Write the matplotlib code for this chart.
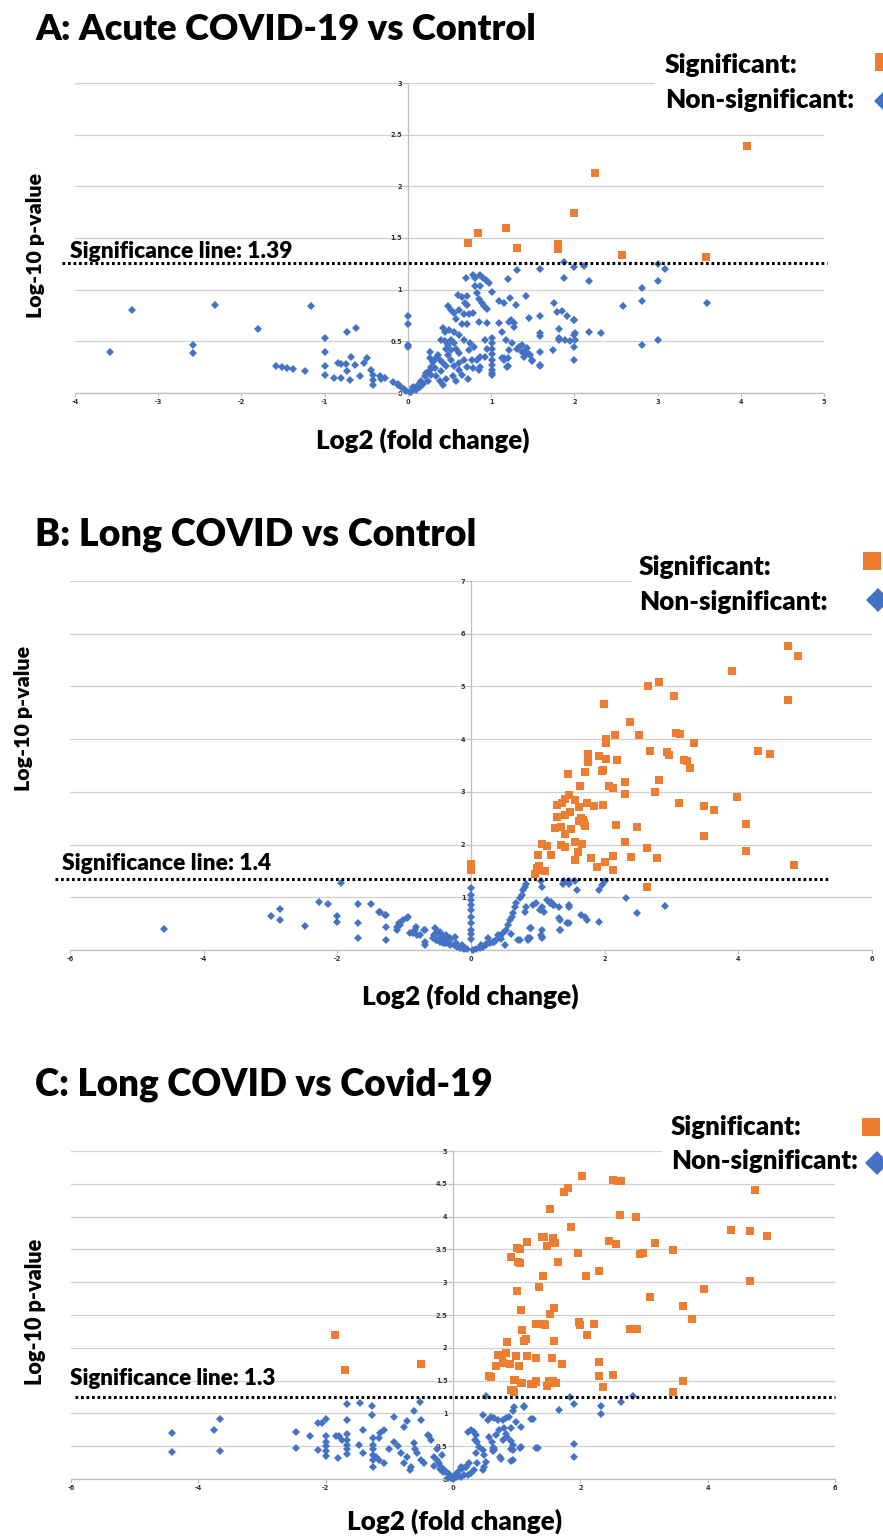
import matplotlib
matplotlib.use("Agg")
import matplotlib.pyplot as plt
from matplotlib.patches import Rectangle
from matplotlib.lines import Line2D

plt.rcParams['font.family'] = ['Lato', 'DejaVu Sans']
TEXT_WEIGHT = 'heavy'

ORANGE = '#ED7D31'
BLUE = '#4472C4'

# ---------------- Panel A data ----------------
a_sig_x = [4.08, 2.25, 1.99, 1.18, 0.84, 0.72, 1.31, 1.80, 1.80, 2.57, 3.58]
a_sig_y = [2.39, 2.13, 1.74, 1.60, 1.55, 1.45, 1.40, 1.44, 1.39, 1.34, 1.32]
a_ns_x = [-3.58, -3.32, -2.58, -2.58, -2.32, -1.80, -1.17, -1.58, -1.51, -1.45, -1.38, -1.24,
          -0.99, -0.99, -0.99, -0.99, -0.89, -0.80, -0.84, -0.80, -0.73, -0.62, -0.68, -0.74,
          -0.63, -0.73, -0.69, -0.58, -0.53, -0.49, -0.44, -0.42, -0.42, -0.42, -0.32, -0.28,
          -0.18, -0.12, -0.08, -0.05, -0.02, 0.00, 0.00, 0.00, 0.00, -0.34, -0.12,
          0.70, 0.78, 0.87, 0.81, 0.90, 0.94, 0.97, 0.81, 0.87, 0.83, 1.01, 1.20, 1.31, 1.59,
          1.88, 1.88, 2.00, 0.60, 0.65, 0.71, 0.69, 0.71, 0.86, 0.89, 0.91, 0.95, 1.09, 1.16,
          1.23, 1.30, 1.42, 0.85, 0.95, 1.10, 1.21, 1.24, 1.27, 1.13, 1.27, 1.45, 1.59, 1.59,
          1.59, 1.75, 1.79, 1.85, 1.91, 1.99, 2.01, 2.01, 1.81, 1.89, 1.95, 1.74, 2.00, 1.59,
          1.43, 1.37, 1.33, 1.39, 1.45, 1.49, 1.39, 1.25, 1.18, 1.22, 1.15, 1.19,
          1.01, 1.01, 1.01, 1.01, 1.01, 1.01, 1.01, 1.01, 1.01,
          0.93, 0.95, 0.87, 0.93, 0.87, 0.75, 0.79, 0.74, 0.77, 0.83, 0.71, 0.78, 0.85, 0.72,
          2.12, 2.18, 3.00, 3.01, 3.09, 2.81, 2.81, 2.58, 3.59, 2.32, 2.18, 2.81, 3.00,
          2.00, 2.00, 2.00, 1.59, 1.59, 1.81, 1.81, 1.20, 1.20, 1.31, 1.37, 1.41, 1.47, 1.49,
          1.13, 1.15,
          0.40, 0.44, 0.48, 0.52, 0.56, 0.46, 0.52, 0.58, 0.62, 0.48, 0.38, 0.42, 0.46, 0.52,
          0.56, 0.61, 0.40, 0.32, 0.26, 0.22, 0.28, 0.34, 0.38, 0.42, 0.46, 0.54, 0.58, 0.65,
          0.67, 0.62, 0.48, 0.52, 0.56, 0.62, 0.58, 0.68, 0.74, 0.78, 0.71, 0.65, 0.42, 0.44,
          0.50, 0.56, 0.62, 0.67,
          0.04, 0.08, 0.12, 0.16, 0.20, 0.18, 0.24, 0.14, 0.06, 0.28, 0.30, 0.34, 0.36, 0.26,
          0.26, 0.10, 0.02]
a_ns_y = [0.40, 0.80, 0.46, 0.39, 0.85, 0.62, 0.84, 0.26, 0.25, 0.24, 0.23, 0.21,
          0.53, 0.40, 0.26, 0.17, 0.15, 0.15, 0.29, 0.28, 0.59, 0.63, 0.35, 0.28,
          0.27, 0.21, 0.13, 0.16, 0.29, 0.34, 0.22, 0.17, 0.13, 0.08, 0.14, 0.15,
          0.11, 0.09, 0.06, 0.04, 0.02, 0.75, 0.67, 0.46, 0.45, 0.16, 0.08,
          1.11, 1.14, 1.14, 1.11, 1.11, 1.09, 1.06, 1.04, 1.04, 0.97, 0.98, 1.10, 1.19, 1.20,
          1.27, 1.11, 1.22, 0.95, 0.93, 0.94, 0.87, 0.85, 0.91, 0.87, 0.84, 0.81, 0.89, 0.87,
          0.92, 0.85, 0.94, 0.69, 0.68, 0.68, 0.69, 0.71, 0.68, 0.59, 0.64, 0.73, 0.75, 0.58,
          0.55, 0.87, 0.78, 0.79, 0.75, 0.71, 0.58, 0.51, 0.53, 0.51, 0.50, 0.42, 0.32, 0.27,
          0.44, 0.46, 0.45, 0.40, 0.38, 0.32, 0.35, 0.48, 0.51, 0.42, 0.34, 0.25,
          0.53, 0.48, 0.43, 0.38, 0.32, 0.27, 0.22, 0.19, 0.17,
          0.51, 0.43, 0.35, 0.35, 0.25, 0.48, 0.45, 0.42, 0.32, 0.32, 0.25, 0.24, 0.22, 0.14,
          1.23, 1.08, 1.25, 1.08, 1.20, 1.02, 0.89, 0.84, 0.87, 0.58, 0.59, 0.46, 0.51,
          0.45, 0.56, 0.71, 0.40, 0.26, 0.62, 0.51, 0.34, 0.26, 0.43, 0.40, 0.38, 0.37, 0.31,
          0.34, 0.32,
          0.51, 0.50, 0.46, 0.51, 0.48, 0.43, 0.42, 0.43, 0.39, 0.37, 0.32, 0.29, 0.26, 0.32,
          0.26, 0.22, 0.21, 0.24, 0.22, 0.19, 0.17, 0.16, 0.12, 0.08, 0.14, 0.16, 0.12, 0.17,
          0.32, 0.29, 0.84, 0.80, 0.77, 0.80, 0.72, 0.76, 0.76, 0.77, 0.67, 0.67, 0.63, 0.59,
          0.61, 0.59, 0.56, 0.51,
          0.01, 0.05, 0.08, 0.12, 0.16, 0.09, 0.12, 0.06, 0.06, 0.25, 0.30, 0.34, 0.37, 0.40,
          0.34, 0.03, 0.01]

# ---------------- Panel B data ----------------
b_sig_x = [4.74, 4.90, 3.90, 4.74, 2.65, 2.82, 3.04, 1.99, 2.38, 2.51, 2.15, 2.02, 2.02,
           3.07, 3.12, 3.34, 2.68, 2.93, 2.97, 4.30, 4.48, 3.18, 3.23, 3.27, 1.75, 1.75,
           1.92, 2.02, 2.18, 1.96, 1.98, 1.45, 1.70, 2.81, 2.31, 1.63, 2.07, 2.13, 2.76,
           2.31, 3.98, 1.46, 1.29, 1.36, 1.40, 1.56, 1.61, 1.74, 1.84, 1.98, 3.11, 3.48,
           3.63, 1.28, 1.40, 1.48, 1.64, 1.68, 1.61, 1.69, 1.71, 1.25, 1.34, 1.40, 1.49,
           2.17, 2.49, 4.12, 3.48, 1.06, 1.14, 1.35, 1.40, 1.56, 1.66, 2.31, 1.60, 2.63,
           4.12, 1.00, 1.19, 1.79, 2.12, 2.40, 2.79, 1.56, 2.00, 1.89, 4.84, 1.01, 0.99,
           0.96, 1.10, 0.99, 2.12, 2.63, 0.0, 0.0, 0.0]
b_sig_y = [5.76, 5.58, 5.29, 4.74, 5.01, 5.09, 4.81, 4.67, 4.32, 4.07, 4.07, 4.00, 3.92,
           4.12, 4.09, 3.92, 3.77, 3.75, 3.70, 3.77, 3.71, 3.60, 3.59, 3.46, 3.71, 3.57,
           3.68, 3.63, 3.61, 3.40, 3.41, 3.34, 3.37, 3.23, 3.18, 3.11, 3.11, 3.08, 3.00,
           2.96, 2.91, 2.94, 2.75, 2.78, 2.86, 2.84, 2.72, 2.79, 2.73, 2.75, 2.78, 2.73,
           2.65, 2.53, 2.57, 2.62, 2.51, 2.46, 2.44, 2.40, 2.36, 2.31, 2.34, 2.21, 2.29,
           2.37, 2.34, 2.39, 2.17, 2.01, 1.98, 1.99, 1.96, 2.04, 2.02, 2.04, 1.86, 1.93,
           1.88, 1.80, 1.80, 1.75, 1.79, 1.77, 1.74, 1.71, 1.66, 1.58, 1.61, 1.59, 1.51,
           1.45, 1.50, 1.55, 1.52, 1.20, 1.64, 1.58, 1.52]
b_ns_x = [-4.59, -3.00, -2.86, -2.86, -2.48, -2.27, -2.14, -2.00, -2.00, -1.94, -1.69, -1.69,
          -1.69, -1.49, -1.38, -1.27, -1.27, -1.27, -1.10, -1.07, -1.01, -0.95, -0.92, -0.84,
          -0.82, -0.77, -0.69, -0.69, -0.69, -0.54, -0.52, -0.47, -0.42, -0.37, -0.32, -0.24,
          -0.22, -0.14, -0.09, -0.57, -0.52, -0.47, -0.42, -0.37, -0.32,
          -1.36, -1.29, -1.06, -1.11, -0.96, -0.87, -0.81, -0.71, -0.49, -0.44, -0.46, -0.41,
          -0.36, -0.31, -0.51, -0.56, -0.39, -0.26, -0.21, -0.16, -0.11, -0.06,
          0.0, 0.0, 0.0, 0.0, 0.0, 0.0, 0.0, 0.0, 0.0, 0.0,
          0.03, 0.08, 0.13, 0.18, 0.23, 0.28, 0.33, 0.38, 0.43, 0.48, 0.53, 0.56, 0.58, 0.61,
          0.63, 0.66, 0.68, 0.73, 0.76, 0.78, 0.81, 0.83,
          0.51, 0.71, 0.86, 0.88, 0.81, 0.83, 0.93, 0.98, 1.06, 1.06, 1.06, 1.03, 1.18, 1.23,
          1.31, 1.33, 1.38, 1.46, 1.46, 1.43,
          1.04, 1.06, 1.39, 1.46, 1.56, 1.59, 1.91, 1.96, 2.01, 2.32, 2.49, 2.91, 1.91, 1.74,
          1.64, 1.71, 1.46, 1.46, 1.31, 1.24, 1.19, 1.14, 1.33, 1.33, 1.09, 0.90, 1.04, 1.06,
          0.74, 0.86, 0.89, 0.15, 0.22, 0.40, 0.45, 0.60, 0.35, 0.25]
b_ns_y = [0.40, 0.65, 0.77, 0.57, 0.45, 0.92, 0.87, 0.65, 0.54, 1.28, 0.88, 0.51,
          0.23, 0.88, 0.73, 0.66, 0.44, 0.19, 0.44, 0.52, 0.57, 0.62, 0.32, 0.38,
          0.44, 0.28, 0.38, 0.16, 0.09, 0.41, 0.32, 0.35, 0.25, 0.28, 0.22, 0.25,
          0.13, 0.09, 0.03, 0.22, 0.19, 0.16, 0.13, 0.13, 0.09,
          0.73, 0.66, 0.47, 0.38, 0.60, 0.32, 0.29, 0.38, 0.35, 0.28, 0.22, 0.19,
          0.22, 0.19, 0.19, 0.28, 0.13, 0.09, 0.06, 0.03, 0.02, 0.01,
          1.17, 1.04, 0.95, 0.85, 0.76, 0.63, 0.51, 0.38, 0.30, 0.20,
          0.00, 0.01, 0.03, 0.06, 0.09, 0.13, 0.16, 0.19, 0.25, 0.32, 0.38, 0.47, 0.57, 0.63,
          0.70, 0.82, 0.89, 0.98, 1.04, 1.14, 1.20, 1.26,
          0.09, 0.19, 0.22, 0.41, 0.73, 0.82, 0.85, 0.89, 0.38, 0.25, 0.82, 0.76, 0.89, 0.85,
          0.60, 0.38, 1.26, 1.26, 0.51, 0.51,
          1.30, 1.20, 1.30, 1.30, 1.30, 1.14, 1.14, 1.23, 1.30, 0.98, 0.71, 0.83, 0.54, 0.57,
          0.66, 0.63, 0.85, 0.82, 0.82, 0.85, 0.92, 0.95, 0.57, 0.38, 0.73, 0.41, 0.28, 0.22,
          0.19, 0.19, 0.22, 0.10, 0.12, 0.28, 0.20, 0.30, 0.15, 0.22]

# ---------------- Panel C data ----------------
c_sig_x = [-1.86, -1.69, -0.50, 0.60, 0.96, 1.09, 1.25, 1.30, 1.51, 0.95,
           2.02, 2.51, 2.59, 2.64, 4.74, 1.80, 1.74, 1.52, 2.63, 2.88, 1.86, 4.37, 4.67,
           4.93, 1.40, 1.43, 1.57, 1.60, 1.47, 1.16, 1.01, 1.05, 2.45, 2.56, 3.17, 3.46,
           2.94, 2.99, 1.97, 0.91, 1.02, 1.06, 1.65, 2.30, 2.09, 1.41, 4.67, 1.35, 3.95,
           1.01, 3.10, 1.07, 1.58, 1.52, 3.62, 3.75, 1.08, 1.30, 1.43, 1.45, 1.98, 1.99,
           2.22, 2.78, 2.89, 2.11, 1.12, 1.15, 1.58, 0.85, 0.71, 0.77, 0.84, 0.99, 1.17,
           1.30, 1.56, 0.79, 0.90, 1.04, 0.67, 1.71, 2.30, 0.57, 0.59, 2.30, 2.51, 0.97,
           1.07, 1.22, 1.30, 1.51, 1.57, 1.61, 1.48, 3.62, 2.35, 0.91, 0.96, 3.46]
c_sig_y = [2.20, 1.66, 1.75, 1.56, 1.51, 1.46, 1.45, 1.48, 1.46, 1.35,
           4.62, 4.56, 4.55, 4.54, 4.40, 4.44, 4.38, 4.11, 4.03, 4.00, 3.84, 3.80, 3.78,
           3.71, 3.69, 3.69, 3.67, 3.60, 3.55, 3.61, 3.52, 3.51, 3.63, 3.58, 3.60, 3.49,
           3.43, 3.45, 3.44, 3.38, 3.31, 3.29, 3.31, 3.17, 3.10, 3.10, 3.02, 2.92, 2.89,
           2.87, 2.77, 2.57, 2.61, 2.52, 2.64, 2.44, 2.27, 2.36, 2.36, 2.35, 2.40, 2.34,
           2.37, 2.29, 2.28, 2.20, 2.10, 2.13, 2.11, 2.09, 1.89, 1.89, 1.92, 1.88, 1.88,
           1.85, 1.85, 1.77, 1.76, 1.73, 1.72, 1.76, 1.79, 1.57, 1.55, 1.57, 1.59, 1.51,
           1.47, 1.45, 1.49, 1.50, 1.49, 1.47, 1.42, 1.50, 1.40, 1.36, 1.33, 1.32]
c_ns_x = [-4.42, -4.42, -3.76, -3.66, -3.66, -2.47, -2.47, -2.25, -2.12, -2.05, -2.00, -2.12,
          -2.00, -2.00, -2.00, -2.00, -2.00, -1.84, -1.79, -1.74, -1.81, -1.67, -1.67, -1.67,
          -1.67, -1.67, -1.67, -1.67, -1.46, -1.41, -1.47, -1.41, -1.28, -1.28, -1.26, -1.26,
          -1.26, -1.26, -1.26, -1.26, -1.16, -1.14, -1.08, -1.21, -1.16, -1.08, -0.93, -0.77,
          -0.72, -0.61, -0.52, -0.50, -1.01, -0.93, -0.87, -0.82, -0.77, -0.72, -0.66, -0.67,
          -0.61, -0.59, -0.56, -0.51, -0.46, -0.40, -0.38, -0.35, -0.30, -0.25, -0.22, -0.19,
          -0.14, -0.12, -0.09, -0.06, -0.04, -0.17, -0.25, 0.04, 0.09, 0.15, 0.20, 0.25,
          0.52, 0.47, 0.55, 0.60, 0.65, 0.70, 0.78, 0.83, 0.88, 0.94, 0.96, 0.99, 1.12, 1.25,
          0.23, 0.28, 0.33, 0.36, 0.34, 0.38, 0.41, 0.47, 0.49, 0.52, 0.49, 0.38, 0.33, 0.28,
          0.23, 0.18, 0.13, 0.07, 0.02, -0.03, 0.20, 0.13, 0.36,
          0.57, 0.62, 0.67, 0.72, 0.80, 0.85, 0.91, 0.78, 0.65, 0.65, 0.75, 0.94, 0.94, 0.94,
          1.07, 1.33, 1.07, 0.83,
          1.84, 1.90, 2.32, 2.32, 2.64, 2.83, 1.66, 1.12, 1.22, 1.90, 1.90, 1.05, 1.31, 0.91,
          0.91, 0.91, 0.74, 0.63, 0.63, 0.47, -0.08, 0.00, -0.15, -0.30, -0.20]
c_ns_y = [0.70, 0.41, 0.74, 0.91, 0.42, 0.72, 0.48, 0.66, 0.85, 0.86, 0.91, 0.44,
          0.65, 0.57, 0.50, 0.43, 0.35, 0.66, 0.65, 0.60, 0.32, 1.15, 0.90, 0.68,
          0.60, 0.52, 0.45, 0.38, 1.16, 0.75, 0.52, 0.40, 1.11, 0.97, 0.62, 0.52,
          0.45, 0.37, 0.29, 0.19, 0.62, 0.70, 0.75, 0.34, 0.29, 0.24, 0.94, 0.80,
          0.89, 1.04, 1.18, 0.90, 0.45, 0.57, 0.50, 0.40, 0.24, 0.34, 0.19, 0.14,
          0.55, 0.45, 0.40, 0.29, 0.24, 0.67, 0.65, 0.60, 0.34, 0.29, 0.24, 0.19,
          0.14, 0.12, 0.09, 0.07, 0.04, 0.37, 0.45, 0.07, 0.12, 0.17, 0.19, 0.24,
          1.27, 0.97, 0.90, 0.95, 0.93, 0.90, 0.90, 0.93, 0.95, 1.03, 1.10, 0.87, 1.10, 0.91,
          0.72, 0.75, 0.72, 0.67, 0.59, 0.57, 0.49, 0.44, 0.36, 0.26, 0.19, 0.24, 0.14, 0.09,
          0.06, 0.06, 0.03, 0.03, 0.01, 0.01, 0.19, 0.19, 0.39,
          0.64, 0.57, 0.67, 0.75, 0.77, 0.64, 0.77, 0.59, 0.44, 0.47, 0.31, 0.52, 0.44, 0.29,
          0.49, 0.47, 0.80, 0.69,
          1.25, 1.14, 1.12, 0.99, 1.18, 1.26, 1.05, 1.11, 0.91, 0.53, 0.34, 0.48, 0.47, 0.58,
          0.46, 0.28, 0.33, 0.43, 0.48, 0.14, 0.02, 0.00, 0.10, 0.20, 0.15]

a_yticks = [0, 0.5, 1, 1.5, 2, 2.5, 3]
a_yticklabels = ['0', '0.5', '1', '1.5', '2', '2.5', '3']
a_xticks = [-4, -3, -2, -1, 0, 1, 2, 3, 4, 5]
b_yticks = [0, 1, 2, 3, 4, 5, 6, 7]
b_xticks = [-6, -4, -2, 0, 2, 4, 6]
c_yticks = [0, 0.5, 1, 1.5, 2, 2.5, 3, 3.5, 4, 4.5, 5]
c_yticklabels = ['0', '0.5', '1', '1.5', '2', '2.5', '3', '3.5', '4', '4.5', '5']
c_xticks = [-6, -4, -2, 0, 2, 4, 6]

W, H = 883, 1536
fig = plt.figure(figsize=(W / 100, H / 100), dpi=100)
renderer = fig.canvas.get_renderer()


def fx(px):
    return px / W


def fy(py):
    return 1 - py / H


def fit_text(x_px, y_px, s, target_px, rotation=0, ha='left', va='baseline', zorder=7):
    """Place bold text and scale its font size so it spans target_px pixels."""
    t = fig.text(fx(x_px), fy(y_px), s, fontsize=10, fontweight=TEXT_WEIGHT, ha=ha, va=va,
                 rotation=rotation, zorder=zorder)
    bb = t.get_window_extent(renderer=renderer)
    size = bb.height if rotation == 90 else bb.width
    t.set_fontsize(10 * target_px / size)
    return t


def make_axes(rect_px, xlim, ylim, xticks, yticks, yticklabels, xticklabels):
    x0, y_top, x1, y_bot = rect_px
    ax = fig.add_axes([fx(x0), fy(y_bot), fx(x1) - fx(x0), (y_bot - y_top) / H])
    ax.set_xlim(*xlim)
    ax.set_ylim(*ylim)
    ax.set_xticks(xticks)
    ax.set_xticklabels(xticklabels)
    ax.set_yticks(yticks)
    ax.set_yticklabels(yticklabels)
    ax.spines['top'].set_visible(False)
    ax.spines['right'].set_visible(False)
    ax.spines['left'].set_position(('data', 0))
    for s in ('left', 'bottom'):
        ax.spines[s].set_color('#bfbfbf')
        ax.spines[s].set_linewidth(0.9)
    ax.tick_params(axis='both', direction='out', length=3, width=0.8, color='#bfbfbf',
                   labelsize=5, labelcolor='#333333', pad=1)
    for lab in ax.get_xticklabels() + ax.get_yticklabels():
        lab.set_fontweight('bold')
        lab.set_family(['DejaVu Sans'])
        lab.set_fontsize(4.8)
    ax.grid(axis='y', color='#d0d0d0', linewidth=0.9)
    ax.set_axisbelow(True)
    ax.patch.set_alpha(0)
    return ax


def draw_points(ax, sx, sy, nx, ny, dsize, ssize):
    ax.plot(nx, ny, linestyle='none', marker='D', markersize=dsize, color=BLUE,
            markeredgewidth=0, clip_on=False, zorder=3)
    ax.plot(sx, sy, linestyle='none', marker='s', markersize=ssize, color=ORANGE,
            markeredgewidth=0, clip_on=False, zorder=4)


def sig_line(ax, yval, xmin, xmax):
    ax.axhline(yval, xmin=xmin, xmax=xmax, color='black', linewidth=2.2,
               linestyle=(0, (0.9, 0.9)), clip_on=False, zorder=5)


def legend(x_text, base_sig, base_non, w_sig, w_non, sq_xy, dm_xy, box):
    bx0, by0, bx1, by1 = box
    fig.add_artist(Rectangle((fx(bx0), fy(by1)), fx(bx1) - fx(bx0), (by1 - by0) / H,
                             transform=fig.transFigure, facecolor='white', edgecolor='none',
                             zorder=6))
    fit_text(x_text, base_sig, 'Significant:', w_sig)
    fit_text(x_text, base_non, 'Non-significant:', w_non)
    fig.add_artist(Line2D([fx(sq_xy[0])], [fy(sq_xy[1])], marker='s', markersize=13.5,
                          color=ORANGE, markeredgewidth=0, transform=fig.transFigure,
                          zorder=7))
    fig.add_artist(Line2D([fx(dm_xy[0])], [fy(dm_xy[1])], marker='D', markersize=12.5,
                          color=BLUE, markeredgewidth=0, transform=fig.transFigure,
                          zorder=7))


# ---------------- Panel A ----------------
axA = make_axes((75, 83, 824, 393), (-4, 5), (0, 3), a_xticks, a_yticks, a_yticklabels,
                [str(v) for v in a_xticks])
draw_points(axA, a_sig_x, a_sig_y, a_ns_x, a_ns_y, 3.9, 5.4)
sig_line(axA, 1.26, -0.017, 1.004)
fit_text(70, 258, 'Significance line: 1.39', 223)
fit_text(35, 40, 'A: Acute COVID-19 vs Control', 502)
fit_text(423, 449, 'Log2 (fold change)', 214, ha='center')
fit_text(36, 245, 'Log-10 p-value', 145, rotation=90, ha='center', va='center')
legend(665, 73, 108, 133, 190, (884, 62), (886, 101), (655, 45, 883, 116))

# ---------------- Panel B ----------------
axB = make_axes((70, 581, 872, 950), (-6, 6), (0, 7), b_xticks, b_yticks,
                [str(v) for v in b_yticks], [str(v) for v in b_xticks])
draw_points(axB, b_sig_x, b_sig_y, b_ns_x, b_ns_y, 3.9, 5.9)
sig_line(axB, 1.35, -0.019, 0.948)
fit_text(62, 870, 'Significance line: 1.4', 210)
fit_text(35, 546, 'B: Long COVID vs Control', 443)
fit_text(470, 1005, 'Log2 (fold change)', 217, ha='center')
fit_text(24, 718, 'Log-10 p-value', 145, rotation=90, ha='center', va='center')
legend(639, 575, 610, 133, 189, (872, 561), (878, 600), (632, 548, 883, 620))

# ---------------- Panel C ----------------
axC = make_axes((71, 1151, 835, 1479), (-6, 6), (0, 5), c_xticks, c_yticks, c_yticklabels,
                [str(v) for v in c_xticks])
draw_points(axC, c_sig_x, c_sig_y, c_ns_x, c_ns_y, 3.9, 5.9)
sig_line(axC, 1.25, 0.005, 1.0)
fit_text(70, 1385, 'Significance line: 1.3', 206)
fit_text(35, 1096, 'C: Long COVID vs Covid-19', 457)
fit_text(455, 1530, 'Log2 (fold change)', 215, ha='center')
fit_text(36, 1312, 'Log-10 p-value', 147, rotation=90, ha='center', va='center')
legend(671, 1135, 1169, 131, 187, (871, 1127), (877, 1163), (662, 1108, 883, 1178))

fig.savefig('out.png', dpi=100)
